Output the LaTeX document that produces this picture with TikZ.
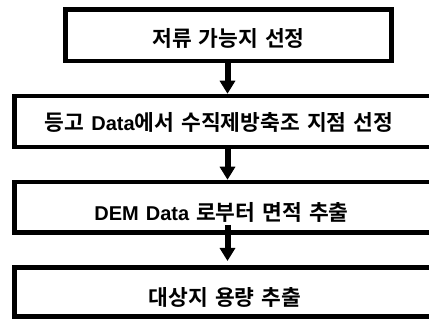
\documentclass[tikz,border=0pt]{standalone}
\usepackage{fontspec}
\newfontfamily\kr{Noto Sans CJK KR}[BoldFont={* Bold}]
\newfontfamily\lat{Liberation Sans}
\newcommand\latword[1]{{\lat\bfseries\fontsize{20pt}{23pt}\selectfont #1}}
\newcommand\labelfont{\kr\bfseries\fontsize{21.5pt}{24pt}\selectfont}
\usetikzlibrary{arrows.meta}
\tikzset{
  stepbox/.style={draw=black, line width=4.5pt, fill=white, inner sep=0pt},
  steptext/.style={font=\labelfont, inner sep=0pt, anchor=center,
    execute at begin node={\spaceskip=7pt\relax}},
  flow/.style={line width=6pt, -{Triangle[width=15pt,length=13pt]}}
}
\begin{document}
\begin{tikzpicture}[x=1pt,y=-1pt]
  \useasboundingbox (0,0) rectangle (429,320);
  \clip (0,0) rectangle (429,320);
  % process boxes
  \node[stepbox, minimum width=326pt, minimum height=51.5pt] (b1) at (228.5,35.25) {};
  \node[stepbox, minimum width=425.5pt, minimum height=51pt] (b2) at (227.25,121.5) {};
  \node[stepbox, minimum width=425.5pt, minimum height=50.5pt] (b3) at (227.25,207.25) {};
  \node[stepbox, minimum width=425.5pt, minimum height=49pt] (b4) at (227.25,292) {};
  % labels
  \node[steptext] (t1) at (228.5,38.5) {저류 가능지 선정};
  \node[steptext] (t2) at (219,122.5) {등고 \latword{Data}에서 수직제방축조 지점 선정};
  \node[steptext] (t3) at (221.5,212) {\latword{DEM Data} 로부터 면적 추출};
  \node[steptext] (t4) at (225,297.5) {대상지 용량 추출};
  % connectors
  \coordinate (a1s) at (227.5,61);
  \coordinate (a2s) at (227.5,147);
  \coordinate (a3s) at (227.5,225);
  \coordinate (a3e) at (227.5,261);
  \draw[flow] (a1s) -- (a1s |- b2.north);
  \draw[flow] (a2s) -- (a2s |- b3.north);
  \draw[flow] (a3s) -- (a3e);
\end{tikzpicture}
\end{document}
